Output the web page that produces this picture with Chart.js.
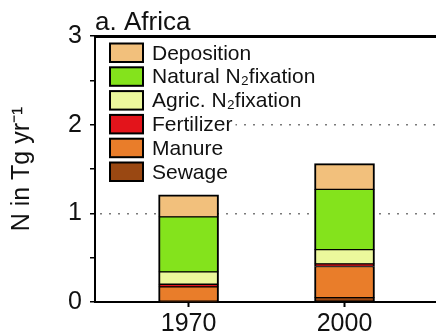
<!DOCTYPE html>
<html>
<head>
<meta charset="utf-8">
<script src="https://cdn.jsdelivr.net/npm/chart.js@4/dist/chart.umd.min.js"></script>
<style>
  html, body { margin: 0; padding: 0; background: #fff; overflow: hidden; }
  #wrap { width: 436px; height: 331px; }
</style>
</head>
<body>
<div id="wrap"><canvas id="c" width="436" height="331"></canvas></div>
<script>
// Nitrogen inputs to Africa, Tg N per year
const years = [1970, 2000];
const sewage = [0.01, 0.05];
const manure = [0.16, 0.35];
const fertilizer = [0.03, 0.03];
const agricFixation = [0.14, 0.16];
const naturalFixation = [0.62, 0.68];
const deposition = [0.25, 0.29];

// stacked bottom to top
const seriesNames = ['Sewage', 'Manure', 'Fertilizer', 'Agric. N\u2082fixation', 'Natural N\u2082fixation', 'Deposition'];
const seriesValues = [sewage, manure, fertilizer, agricFixation, naturalFixation, deposition];
const seriesColors = ['#9a4812', '#e97d2a', '#e3141b', '#ecf89c', '#84e31c', '#f2c07c'];
const yTickLabels = { 0: '0', 1: '1', 2: '2', 3: '3' };

const FONT = "'Liberation Sans', Arial, Helvetica, sans-serif";

const datasets = seriesNames.map((name, i) => ({
  label: name,
  data: years.map((yr, j) => ({ x: yr, y: seriesValues[i][j] })),
  backgroundColor: seriesColors[i],
  borderColor: '#000',
  borderWidth: { top: i === seriesNames.length - 1 ? 2 : 1, bottom: 1, left: 2, right: 2 },
  borderSkipped: false,
  barThickness: 60
}));

// legend drawn inside the plot, each row on a white strip
const insetLegend = {
  id: 'insetLegend',
  afterDraw(chart) {
    const ctx = chart.ctx;
    const area = chart.chartArea;
    const x0 = 110, y0 = 43.5, rowH = 23.8, boxW = 33, boxH = 18.5, textX = 152;
    ctx.save();
    ctx.font = '21px ' + FONT;
    ctx.textBaseline = 'middle';
    const order = chart.data.datasets.slice().reverse();
    order.forEach((ds, r) => {
      const top = y0 + r * rowH;
      const tw = ctx.measureText(ds.label).width;
      ctx.fillStyle = '#fff';
      ctx.fillRect(area.left + 2, top - 2.5, textX + tw + 3 - area.left - 2, rowH);
      ctx.fillStyle = ds.backgroundColor;
      ctx.fillRect(x0, top, boxW, boxH);
      ctx.lineWidth = 2;
      ctx.strokeStyle = '#000';
      ctx.strokeRect(x0, top, boxW, boxH);
      ctx.fillStyle = '#111';
      ctx.fillText(ds.label, textX, top + boxH / 2 + 1);
    });
    ctx.restore();
  }
};

new Chart(document.getElementById('c'), {
  type: 'bar',
  data: { datasets },
  options: {
    responsive: false,
    animation: false,
    devicePixelRatio: 1,
    layout: { padding: { left: 0, right: 0, top: 0, bottom: 0 } },
    plugins: {
      legend: { display: false },
      tooltip: { enabled: false },
      title: {
        display: true,
        text: 'a. Africa',
        align: 'start',
        fullSize: false,
        color: '#111',
        font: { family: FONT, size: 26, weight: 'normal', lineHeight: 1.0 },
        padding: { top: 10, bottom: 0 }
      }
    },
    scales: {
      x: {
        type: 'linear',
        stacked: true,
        offset: false,
        min: 1952,
        max: 2017.6,
        afterBuildTicks: (scale) => { scale.ticks = years.map(v => ({ value: v })); },
        afterFit: (scale) => { scale.height = 29; },
        ticks: {
          color: '#111',
          font: { family: FONT, size: 25 },
          padding: 2,
          maxRotation: 0,
          autoSkip: false,
          callback: (v) => String(v)
        },
        grid: { offset: false, drawOnChartArea: false, drawTicks: true, tickLength: 5, tickColor: '#000', tickWidth: 2 },
        border: { display: true, color: '#000', width: 2 }
      },
      x2: {
        type: 'linear',
        position: 'top',
        offset: false,
        min: 0,
        max: 1,
        afterFit: (scale) => { scale.height = 0; },
        ticks: { display: false },
        grid: { display: false, drawTicks: false },
        border: { display: true, color: '#000', width: 3 }
      },
      y: {
        stacked: true,
        min: 0,
        max: 3,
        afterFit: (scale) => { scale.width = 95; },
        ticks: {
          stepSize: 0.5,
          color: '#111',
          font: { family: FONT, size: 25 },
          padding: 8,
          callback: (v) => (yTickLabels[v] !== undefined ? yTickLabels[v] : '')
        },
        grid: {
          drawTicks: true,
          tickLength: 5,
          tickColor: '#000',
          tickWidth: 1.5,
          lineWidth: 1.5,
          color: (c) => (c.tick && (c.tick.value === 1 || c.tick.value === 2)) ? '#7a7a7a' : 'rgba(0,0,0,0)'
        },
        border: { display: true, color: '#000', width: 2, dash: [2, 7], dashOffset: -4 },
        title: {
          display: true,
          text: 'N in Tg yr\u207B\u00B9',
          color: '#111',
          font: { family: FONT, size: 25 },
          padding: { top: 7, bottom: 0 }
        }
      }
    }
  },
  plugins: [insetLegend]
});
</script>
</body>
</html>
